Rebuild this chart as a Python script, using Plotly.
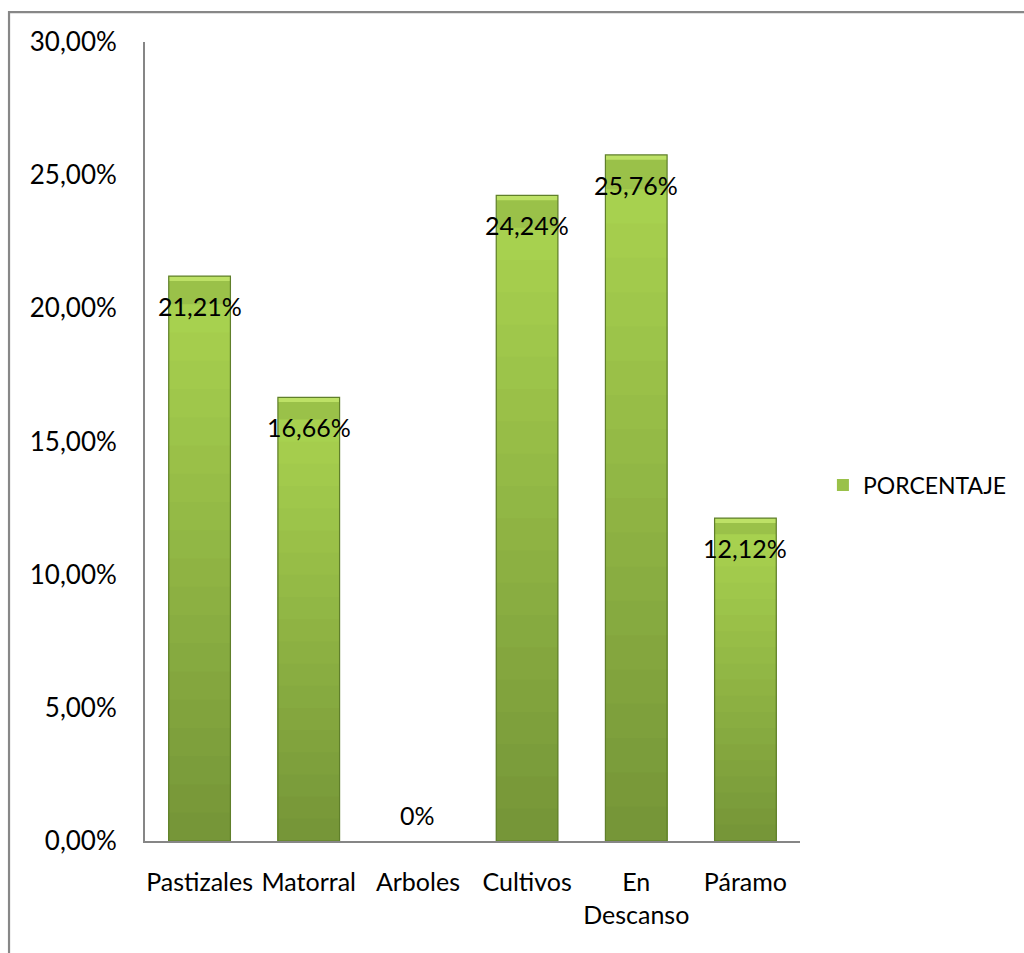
import plotly.graph_objects as go

# Land-use categories and their share of the surveyed area (fractions)
categorias = ["Pastizales", "Matorral", "Arboles", "Cultivos", "En<br>Descanso", "Páramo"]
porcentaje = [0.2121, 0.1666, 0.0, 0.2424, 0.2576, 0.1212]
serie = "PORCENTAJE"

# Y axis ticks
y_ticks = [0.0, 0.05, 0.10, 0.15, 0.20, 0.25, 0.30]


def etiqueta(v):
    # Spanish style: decimal comma; zero shown as plain "0%"
    if v == 0:
        return "0%"
    return f"{v * 100:.2f}%".replace(".", ",")


FONT = "Lato"
FONT_SIZE = 26
TOP_RGB = (170, 212, 80)
BOTTOM_RGB = (118, 150, 56)
STEPS = 20
Y_MAX = 0.30
BEVEL = 0.0018  # height of the light strip along the top of each bar (axis units)


def mix(t):
    r, g, b = (round(a + (b_ - a) * t) for a, b_ in zip(TOP_RGB, BOTTOM_RGB))
    return f"rgb({r},{g},{b})"


fig = go.Figure()

# Main bar trace (full height) carries the legend entry
fig.add_trace(go.Bar(
    x=categorias, y=porcentaje, name=serie,
    marker=dict(color=mix(0.3), line=dict(width=0)),
    showlegend=True, hoverinfo="x+y",
))

# Vertical shading: progressively shorter, darker bars painted on top
for k in range(1, STEPS):
    frac = 1 - k / STEPS
    fig.add_trace(go.Bar(
        x=categorias, y=[v * frac for v in porcentaje],
        marker=dict(color=mix(k / (STEPS - 1)), line=dict(width=0)),
        showlegend=False, hoverinfo="skip",
    ))

# Light bevel strip at the top of each bar
fig.add_trace(go.Bar(
    x=categorias, y=[-BEVEL if v > 0 else 0 for v in porcentaje], base=porcentaje,
    marker=dict(color="#bde166", line=dict(width=0)),
    showlegend=False, hoverinfo="skip",
))

# Dark outline around each non-empty bar
fig.add_trace(go.Bar(
    x=categorias, y=porcentaje,
    marker=dict(color="rgba(0,0,0,0)",
                line=dict(color="#5f7f2a", width=[1.2 if v > 0 else 0 for v in porcentaje])),
    showlegend=False, hoverinfo="skip",
))

# Value labels just inside the top of each bar
for cat, v in zip(categorias, porcentaje):
    fig.add_annotation(
        x=cat, y=v, xref="x", yref="y",
        text=etiqueta(v), showarrow=False,
        yshift=-30 if v > 0 else 26,
        font=dict(family=FONT, size=FONT_SIZE - 1, color="black"),
    )

# Outer chart frame
fig.add_shape(
    type="rect", xref="paper", yref="paper",
    x0=-0.2076, x1=1.36, y0=-0.16, y1=1.0375,
    line=dict(color="#878787", width=2.2), fillcolor="rgba(0,0,0,0)",
    layer="below",
)

fig.update_layout(
    width=1024, height=953,
    margin=dict(l=145, r=219, t=42, b=112),
    paper_bgcolor="white", plot_bgcolor="white",
    barmode="overlay", bargap=0.435,
    separators=",.",
    font=dict(family=FONT, size=FONT_SIZE, color="black"),
    legend=dict(
        x=1.035, y=0.4456, xanchor="left", yanchor="middle",
        itemwidth=30,
        font=dict(family=FONT, size=23, color="black"),
        bgcolor="rgba(0,0,0,0)",
    ),
    xaxis=dict(
        showline=True, linecolor="#868686", linewidth=2,
        showgrid=False, ticks="", ticklabelstandoff=18,
        tickfont=dict(family=FONT, size=FONT_SIZE - 1, color="black"),
    ),
    yaxis=dict(
        range=[0, Y_MAX], tickvals=y_ticks, tickformat=".2%",
        showline=True, linecolor="#868686", linewidth=2,
        showgrid=False, zeroline=False, ticks="", ticklabelstandoff=21,
        tickfont=dict(family=FONT, size=FONT_SIZE, color="black"),
    ),
)

fig.write_html("out.html")
